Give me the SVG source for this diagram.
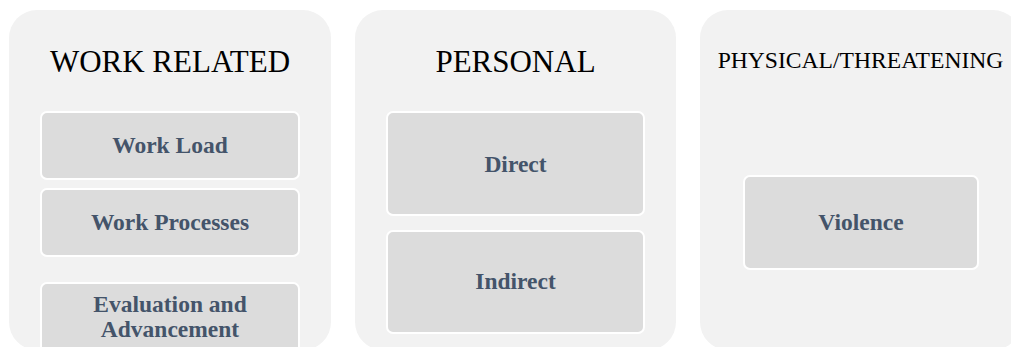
<svg xmlns="http://www.w3.org/2000/svg" width="1011" height="347" viewBox="0 0 1011 347">
<style>
.panel{fill:#f2f2f2}
.box{fill:#dcdcdc;stroke:#ffffff;stroke-width:2}
.title{font-family:"Liberation Serif","Times New Roman",serif;fill:#000000;text-anchor:middle}
.lbl{font-family:"Liberation Serif","Times New Roman",serif;font-weight:bold;font-size:23.5px;fill:#44546a;text-anchor:middle}
</style>
<rect width="1011" height="347" fill="#ffffff"/>
<g id="work-related">
<rect class="panel" x="9" y="10" width="322" height="340" rx="28"/>
<text class="title" x="170" y="72" font-size="31">WORK RELATED</text>
</g>
<g id="work-load">
<rect class="box" x="41" y="112" width="258" height="67" rx="6"/>
<text class="lbl" x="170" y="153">Work Load</text>
</g>
<g id="work-processes">
<rect class="box" x="41" y="189" width="258" height="67" rx="6"/>
<text class="lbl" x="170" y="230">Work Processes</text>
</g>
<g id="evaluation">
<rect class="box" x="41" y="283" width="258" height="80" rx="6"/>
<text class="lbl" x="170" y="312">Evaluation and</text>
<text class="lbl" x="170" y="337">Advancement</text>
</g>
<g id="personal">
<rect class="panel" x="355" y="10" width="321" height="340" rx="28"/>
<text class="title" x="515.5" y="72" font-size="31">PERSONAL</text>
</g>
<g id="direct">
<rect class="box" x="387" y="112" width="257" height="103" rx="6"/>
<text class="lbl" x="515.5" y="172">Direct</text>
</g>
<g id="indirect">
<rect class="box" x="387" y="231" width="257" height="102" rx="6"/>
<text class="lbl" x="515.5" y="289">Indirect</text>
</g>
<g id="physical">
<rect class="panel" x="700" y="10" width="321" height="340" rx="28"/>
<text class="title" x="860.5" y="68" font-size="23.6">PHYSICAL/THREATENING</text>
</g>
<g id="violence">
<rect class="box" x="744" y="176" width="234" height="93" rx="6"/>
<text class="lbl" x="861" y="230">Violence</text>
</g>
<g id="connectors"></g>
</svg>
